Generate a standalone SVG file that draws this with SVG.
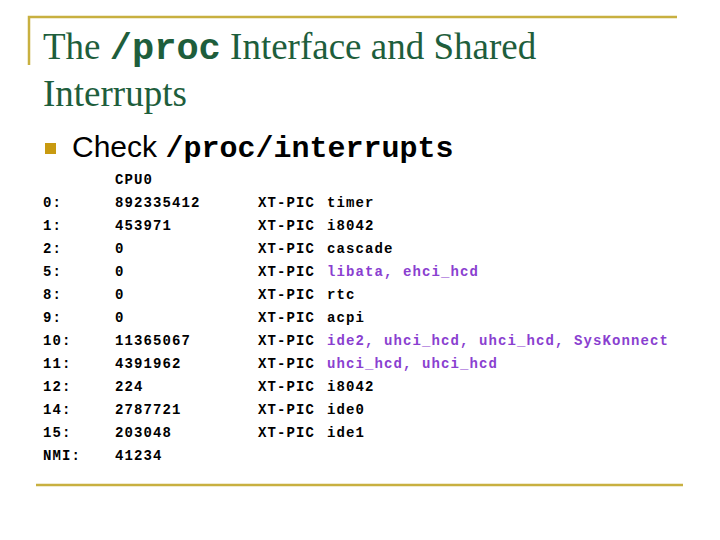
<svg xmlns="http://www.w3.org/2000/svg" width="720" height="540" viewBox="0 0 720 540">
<style>
.t{font-family:"Liberation Serif",serif;font-size:37px;fill:#1e5e3c}
.m{font-family:"Liberation Mono",monospace;font-weight:bold;font-size:14px;letter-spacing:1.1px;fill:#000}
.p{fill:#8a3fd0}
</style>
<rect width="720" height="540" fill="#fff"/>
<g id="frame" stroke="#c8b040" stroke-width="2.5" fill="none">
<path d="M29 65V17H677"/>
<path d="M36 485H683"/>
</g>
<g id="title">
<text class="t" x="43" y="59">The <tspan font-family="Liberation Mono,monospace" font-weight="bold">/proc</tspan> Interface and Shared</text>
<text class="t" x="43" y="106">Interrupts</text>
</g>
<g id="bullet">
<rect x="45" y="143" width="11" height="11" fill="#c89a10"/>
<text x="72" y="157" font-family="Liberation Sans,sans-serif" font-size="30">Check <tspan font-family="Liberation Mono,monospace" font-weight="bold">/proc/interrupts</tspan></text>
</g>
<g id="table" class="m">
<text x="115" y="184" class="m">CPU0</text>
<text class="m" y="207"><tspan x="43">0:</tspan><tspan x="115">892335412</tspan><tspan x="258">XT-PIC</tspan><tspan x="327">timer</tspan></text>
<text class="m" y="230"><tspan x="43">1:</tspan><tspan x="115">453971</tspan><tspan x="258">XT-PIC</tspan><tspan x="327">i8042</tspan></text>
<text class="m" y="253"><tspan x="43">2:</tspan><tspan x="115">0</tspan><tspan x="258">XT-PIC</tspan><tspan x="327">cascade</tspan></text>
<text class="m" y="276"><tspan x="43">5:</tspan><tspan x="115">0</tspan><tspan x="258">XT-PIC</tspan><tspan x="327" class="p">libata, ehci_hcd</tspan></text>
<text class="m" y="299"><tspan x="43">8:</tspan><tspan x="115">0</tspan><tspan x="258">XT-PIC</tspan><tspan x="327">rtc</tspan></text>
<text class="m" y="322"><tspan x="43">9:</tspan><tspan x="115">0</tspan><tspan x="258">XT-PIC</tspan><tspan x="327">acpi</tspan></text>
<text class="m" y="345"><tspan x="43">10:</tspan><tspan x="115">11365067</tspan><tspan x="258">XT-PIC</tspan><tspan x="327" class="p">ide2, uhci_hcd, uhci_hcd, SysKonnect</tspan></text>
<text class="m" y="368"><tspan x="43">11:</tspan><tspan x="115">4391962</tspan><tspan x="258">XT-PIC</tspan><tspan x="327" class="p">uhci_hcd, uhci_hcd</tspan></text>
<text class="m" y="391"><tspan x="43">12:</tspan><tspan x="115">224</tspan><tspan x="258">XT-PIC</tspan><tspan x="327">i8042</tspan></text>
<text class="m" y="414"><tspan x="43">14:</tspan><tspan x="115">2787721</tspan><tspan x="258">XT-PIC</tspan><tspan x="327">ide0</tspan></text>
<text class="m" y="437"><tspan x="43">15:</tspan><tspan x="115">203048</tspan><tspan x="258">XT-PIC</tspan><tspan x="327">ide1</tspan></text>
<text class="m" y="460"><tspan x="43">NMI:</tspan><tspan x="115">41234</tspan></text>
</g>
</svg>
